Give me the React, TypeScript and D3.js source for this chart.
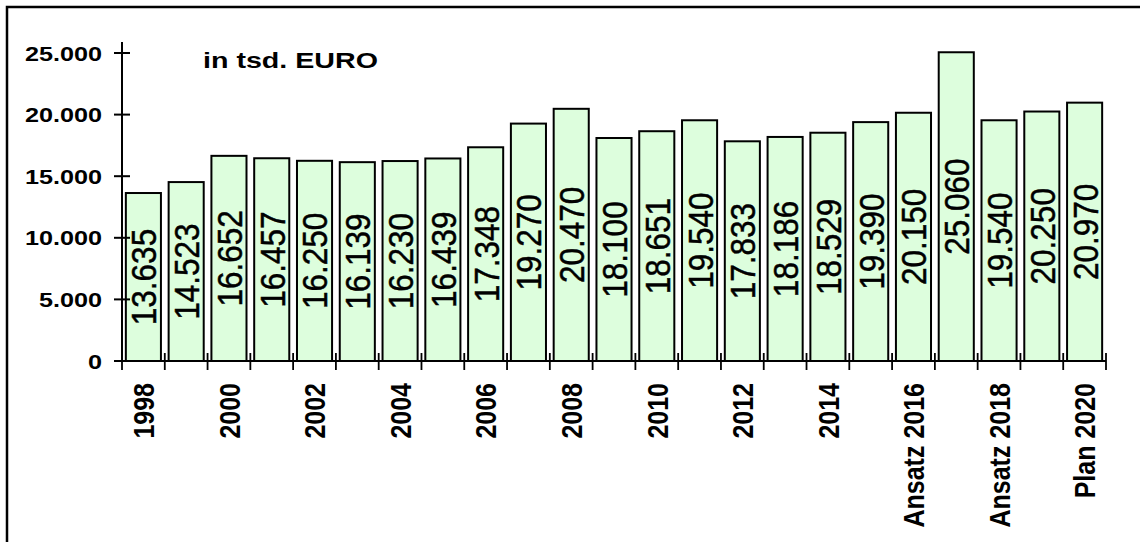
import { useEffect, useRef } from 'react';
import * as d3 from 'd3';

const categories = [
  '1998', '1999', '2000', '2001', '2002', '2003', '2004', '2005', '2006', '2007',
  '2008', '2009', '2010', '2011', '2012', '2013', '2014', '2015',
  'Ansatz 2016', '2017', 'Ansatz 2018', '2019', 'Plan 2020',
];

const values = [
  13635, 14523, 16652, 16457, 16250, 16139, 16230, 16439, 17348, 19270,
  20470, 18100, 18651, 19540, 17833, 18186, 18529, 19390,
  20150, 25060, 19540, 20250, 20970,
];

const yTicks = [0, 5000, 10000, 15000, 20000, 25000];

const unitLabel = 'in tsd. EURO';

const de = d3.formatLocale({
  decimal: ',',
  thousands: '.',
  grouping: [3],
  currency: ['', ' €'],
});
const fmt = de.format(',d');

export default function App() {
  const svgRef = useRef<SVGSVGElement>(null);

  useEffect(() => {
    if (!svgRef.current) return;
    const svg = d3.select(svgRef.current);
    svg.selectAll('*').remove();

    const W = 1140;
    const H = 542;
    const stretch = 1.2; // the original looks stretched sideways
    const font = '"Liberation Sans", Arial, sans-serif';

    svg.attr('width', W).attr('height', H);

    // outer frame (right/bottom edges fall outside the picture)
    svg
      .append('rect')
      .attr('x', 7)
      .attr('y', 7)
      .attr('width', W + 20)
      .attr('height', H + 20)
      .attr('fill', '#fff')
      .attr('stroke', '#000')
      .attr('stroke-width', 2.5);

    const x = d3
      .scaleBand<string>()
      .domain(categories)
      .range([122, 1106])
      .paddingInner(0.18)
      .paddingOuter(0.09);

    const y = d3.scaleLinear().domain([0, 25000]).range([361, 53]);

    const data = categories.map((c, i) => ({ cat: c, value: values[i] }));

    // bars
    svg
      .append('g')
      .selectAll('rect')
      .data(data)
      .enter()
      .append('rect')
      .attr('x', (d) => x(d.cat) || 0)
      .attr('y', (d) => y(d.value))
      .attr('width', x.bandwidth())
      .attr('height', (d) => y(0) - y(d.value))
      .attr('fill', '#ddfedd')
      .attr('stroke', '#000')
      .attr('stroke-width', 2);

    // value labels, rotated inside the bars
    svg
      .append('g')
      .selectAll('text')
      .data(data)
      .enter()
      .append('text')
      .attr('transform', (d) => {
        const cx = (x(d.cat) || 0) + x.bandwidth() / 2;
        const cy = (y(d.value) + y(0)) / 2;
        return `translate(${cx},${cy}) scale(1.14,1) rotate(-90)`;
      })
      .attr('text-anchor', 'middle')
      .attr('dy', '0.36em')
      .attr('font-family', font)
      .attr('font-size', 31.5)
      .attr('fill', '#000')
      .attr('stroke', '#000')
      .attr('stroke-width', 0.45)
      .text((d) => fmt(d.value));

    // y axis
    const yAxis = svg.append('g');
    yAxis
      .append('line')
      .attr('x1', 122)
      .attr('x2', 122)
      .attr('y1', 42)
      .attr('y2', y(0))
      .attr('stroke', '#000')
      .attr('stroke-width', 2);
    yAxis
      .selectAll('line.tick')
      .data(yTicks)
      .enter()
      .append('line')
      .attr('class', 'tick')
      .attr('x1', 114)
      .attr('x2', 130)
      .attr('y1', (d) => y(d))
      .attr('y2', (d) => y(d))
      .attr('stroke', '#000')
      .attr('stroke-width', 2);
    yAxis
      .selectAll('text')
      .data(yTicks)
      .enter()
      .append('text')
      .attr('transform', (d) => `translate(102,${y(d)}) scale(${stretch},1)`)
      .attr('text-anchor', 'end')
      .attr('dy', '0.36em')
      .attr('font-family', font)
      .attr('font-weight', 'bold')
      .attr('font-size', 21)
      .text((d) => fmt(d));

    // x axis
    const step = x.step();
    const edges = categories.map((c) => (x(c) || 0) - (step * x.paddingInner()) / 2);
    edges.push(1106);
    const xAxis = svg.append('g');
    xAxis
      .append('line')
      .attr('x1', 122)
      .attr('x2', 1106)
      .attr('y1', y(0))
      .attr('y2', y(0))
      .attr('stroke', '#000')
      .attr('stroke-width', 2);
    xAxis
      .selectAll('line.tick')
      .data(edges)
      .enter()
      .append('line')
      .attr('class', 'tick')
      .attr('x1', (d) => d)
      .attr('x2', (d) => d)
      .attr('y1', y(0) - 8)
      .attr('y2', y(0) + 9)
      .attr('stroke', '#000')
      .attr('stroke-width', 1.8);
    xAxis
      .selectAll('text')
      .data(categories.filter((_, i) => i % 2 === 0))
      .enter()
      .append('text')
      .attr('transform', (d) => {
        const cx = (x(d) || 0) + x.bandwidth() / 2;
        return `translate(${cx},383) scale(${stretch},1) rotate(-90)`;
      })
      .attr('text-anchor', 'end')
      .attr('dy', '0.36em')
      .attr('font-family', font)
      .attr('font-weight', 'bold')
      .attr('font-size', 25)
      .text((d) => d);

    // unit note
    svg
      .append('text')
      .attr('x', 203)
      .attr('y', 68)
      .attr('font-family', font)
      .attr('font-weight', 'bold')
      .attr('font-size', 22)
      .attr('textLength', 175)
      .attr('lengthAdjust', 'spacingAndGlyphs')
      .text(unitLabel);
  }, []);

  return (
    <svg
      ref={svgRef}
      style={{ position: 'absolute', left: 0, top: 0, display: 'block' }}
    />
  );
}
